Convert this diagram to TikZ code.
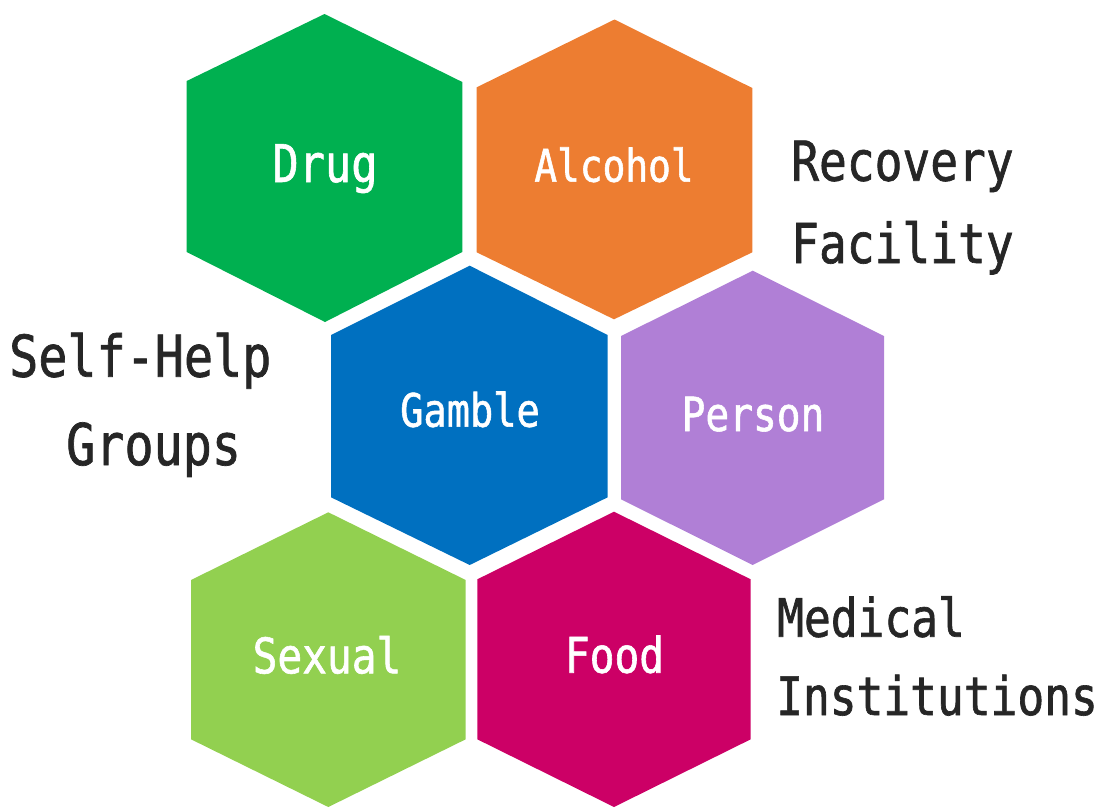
\documentclass[tikz,border=0pt]{standalone}
\usepackage{fontspec}
\newfontfamily\hexfont[FakeStretch=0.84,FakeBold=1.2]{DejaVu Sans Mono}
\definecolor{cDrug}{HTML}{00B050}
\definecolor{cAlcohol}{HTML}{ED7D31}
\definecolor{cGamble}{HTML}{0070C0}
\definecolor{cPerson}{HTML}{B07FD6}
\definecolor{cSexual}{HTML}{92D050}
\definecolor{cFood}{HTML}{CC0066}
\definecolor{cText}{HTML}{262626}
\newcommand{\fsz}[1]{\fontsize{#1}{#1}\selectfont}
\begin{document}
\begin{tikzpicture}[x=1pt,y=-1pt,
  hexlabel/.style={text=white, anchor=base, inner sep=0pt},
  sidelabel/.style={text=cText, anchor=base west, inner sep=0pt}]
\useasboundingbox (0,0) rectangle (1098,807);
% hexagons
\fill[cDrug]    (324.5,14) -- (462.3,82) -- (462.3,252) -- (325,322) -- (186.7,252) -- (186.7,81) -- cycle;
\fill[cAlcohol] (614.5,19.5) -- (752.3,88) -- (752.3,252.3) -- (614,319.3) -- (476.7,252.3) -- (476.7,87.3) -- cycle;
\fill[cGamble]  (469.7,265.7) -- (607.7,335) -- (607.7,497.3) -- (469.7,565) -- (331,497.3) -- (331,335) -- cycle;
\fill[cPerson]  (752.7,270.7) -- (884,336) -- (884,499.3) -- (752.7,565) -- (621,499.3) -- (621,336) -- cycle;
\fill[cSexual]  (328.3,512.3) -- (465.7,580) -- (465.7,739.3) -- (328.3,807) -- (191,739.3) -- (191,580) -- cycle;
\fill[cFood]    (614,511.7) -- (750.7,579.3) -- (750.7,739.3) -- (614,807) -- (477.3,739.3) -- (477.3,579.3) -- cycle;
% hexagon labels
\node[hexlabel, font=\hexfont\fsz{52}] (drug)    at (325,182)   {Drug};
\node[hexlabel, font=\hexfont\fsz{45}] (alcohol) at (614,181.7) {Alcohol};
\node[hexlabel, font=\hexfont\fsz{46}] (gamble)  at (470,426.7) {Gamble};
\node[hexlabel, font=\hexfont\fsz{47}] (person)  at (753,431) {Person};
\node[hexlabel, font=\hexfont\fsz{49}] (sexual)  at (327,673.3) {Sexual};
\node[hexlabel, font=\hexfont\fsz{49}] (food)    at (614.5,672.7) {Food};
% side labels
\node[sidelabel, font=\hexfont\fsz{55}] (recovery) at (791,180.7) {Recovery};
\node[sidelabel, font=\hexfont\fsz{55}] (facility) at (791,263) {Facility};
\node[sidelabel, font=\hexfont\fsz{57.6}] (selfhelp) at (9,376.7) {Self-Help};
\node[sidelabel, font=\hexfont\fsz{57.6}] (groups) at (66,465) {Groups};
\node[sidelabel, font=\hexfont\fsz{53}] (medical) at (777,636.7) {Medical};
\node[sidelabel, font=\hexfont\fsz{53}] (institutions) at (776,715) {Institutions};
\end{tikzpicture}
\end{document}
